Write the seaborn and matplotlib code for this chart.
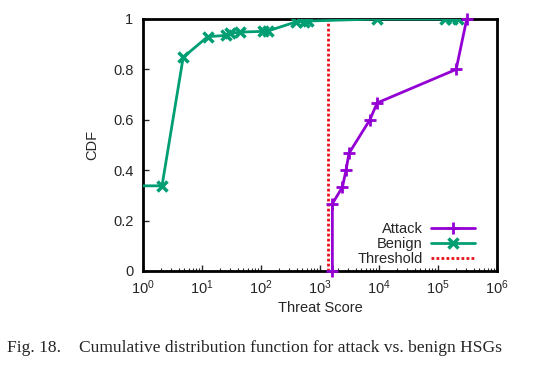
import matplotlib
matplotlib.use("Agg")
import matplotlib.pyplot as plt
import seaborn as sns
import pandas as pd
import numpy as np

# Data
attack_score = [1620, 1620, 2400, 2760, 3100, 7000, 9300, 203000, 307000]
attack_cdf = [0.0, 0.267, 0.333, 0.400, 0.467, 0.600, 0.667, 0.800, 1.000]

benign_score = [0.5, 2.1, 4.8, 12.5, 26, 30, 44, 110, 133, 386, 530, 620, 9100, 131000, 170000, 220000]
benign_cdf = [0.338, 0.338, 0.848, 0.930, 0.935, 0.943, 0.948, 0.951, 0.953, 0.988, 0.990, 0.992, 1.0, 1.0, 1.0, 1.0]

threshold_x = [1350, 1350]
threshold_y = [0.0, 1.0]

y_ticks = [0, 0.2, 0.4, 0.6, 0.8, 1]
y_ticklabels = ["0", "0.2", "0.4", "0.6", "0.8", "1"]
x_ticks = [1, 10, 100, 1000, 1e4, 1e5, 1e6]
x_ticklabels = [r"$10^{%d}$" % i for i in range(7)]

sns.set_style("white")
plt.rcParams['font.family'] = ['Liberation Sans', 'DejaVu Sans']
plt.rcParams['mathtext.fontset'] = 'custom'
plt.rcParams['mathtext.rm'] = 'Liberation Sans'
plt.rcParams['mathtext.it'] = 'Liberation Sans'

fig = plt.figure(figsize=(5.54, 3.71), dpi=100)
ax = fig.add_axes([143/554, 1 - 271/371, 354/554, 252/371])

purple = "#9400D3"
green = "#009E73"
red = "#E8121A"

df_a = pd.DataFrame({"score": attack_score, "cdf": attack_cdf})
df_b = pd.DataFrame({"score": benign_score, "cdf": benign_cdf})
df_t = pd.DataFrame({"score": threshold_x, "cdf": threshold_y})

sns.lineplot(data=df_a, x="score", y="cdf", ax=ax, color=purple, lw=2, marker="+",
             markersize=9, markeredgewidth=2, markeredgecolor=purple, markerfacecolor=purple,
             sort=False, estimator=None, label="Attack", clip_on=False, zorder=4)
sns.lineplot(data=df_b, x="score", y="cdf", ax=ax, color=green, lw=2, marker="x",
             markersize=7.5, markeredgewidth=2.5, markeredgecolor=green, markerfacecolor=green,
             sort=False, estimator=None, label="Benign", zorder=3)
sns.lineplot(data=df_t, x="score", y="cdf", ax=ax, color=red, lw=2, linestyle=(0, (1, 0.8)),
             sort=False, estimator=None, label="Threshold", zorder=2)

ax.set_xscale("log")
ax.set_xlim(1, 1e6)
ax.set_ylim(0, 1)
ax.set_xticks(x_ticks)
ax.set_xticklabels(x_ticklabels)
ax.set_yticks(y_ticks)
ax.set_yticklabels(y_ticklabels)
ax.xaxis.set_minor_locator(matplotlib.ticker.LogLocator(base=10, subs=np.arange(2, 10)))
ax.xaxis.set_minor_formatter(matplotlib.ticker.NullFormatter())
ax.tick_params(axis="both", which="major", direction="in", length=4, width=1, labelsize=10.5, pad=7,
               bottom=True, left=True, top=False, right=False)
ax.tick_params(axis="x", which="major", pad=5)
ax.tick_params(axis="x", which="minor", direction="in", length=2, width=0.8, bottom=True, top=False)
for s in ax.spines.values():
    s.set_linewidth(2)
    s.set_color("black")

ax.set_xlabel("Threat Score", fontsize=10.5, labelpad=3)
ax.set_ylabel("CDF", fontsize=10.5, labelpad=10)

leg = ax.legend(loc="lower right", frameon=False, markerfirst=False, fontsize=10.5,
                handlelength=3, labelspacing=0.08, handletextpad=0.6, borderaxespad=0.0,
                bbox_to_anchor=(0.955, -0.005))

fig.text(7/554, 1 - 348/371, "Fig. 18.", family=["Liberation Serif"], fontsize=12.6, va="center", ha="left")
fig.text(79/554, 1 - 348/371, "Cumulative distribution function for attack vs. benign HSGs",
         family=["Liberation Serif"], fontsize=12.6, va="center", ha="left")

fig.savefig("out.png", dpi=100)
